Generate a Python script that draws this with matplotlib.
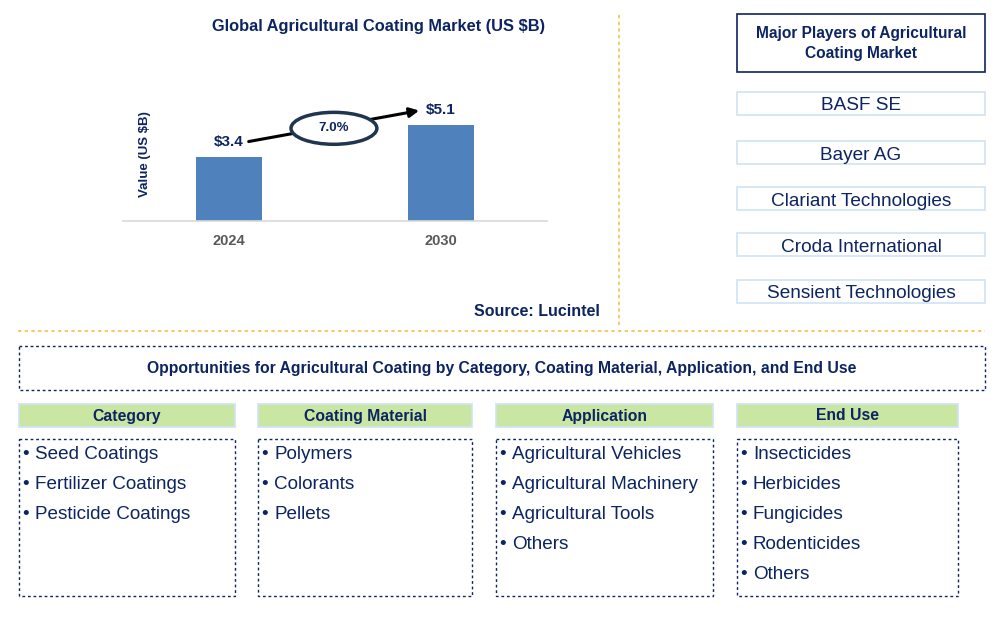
import matplotlib
matplotlib.use("Agg")
import matplotlib.pyplot as plt
from matplotlib.patches import Rectangle, Ellipse

plt.rcParams['font.family'] = ['Liberation Sans', 'DejaVu Sans']

# ---- data ----
years = ["2024", "2030"]
values = [3.4, 5.1]
value_labels = ["$3.4", "$5.1"]
cagr_label = "7.0%"
chart_title = "Global Agricultural Coating Market (US $B)"
y_label = "Value (US $B)"
source_text = "Source: Lucintel"

players_title = "Major Players of Agricultural\nCoating Market"
players = ["BASF SE", "Bayer AG", "Clariant Technologies", "Croda International", "Sensient Technologies"]

opp_title = "Opportunities for Agricultural Coating by Category, Coating Material, Application, and End Use"
seg_titles = ["Category", "Coating Material", "Application", "End Use"]
seg_items = [
    ["Seed Coatings", "Fertilizer Coatings", "Pesticide Coatings"],
    ["Polymers", "Colorants", "Pellets"],
    ["Agricultural Vehicles", "Agricultural Machinery", "Agricultural Tools", "Others"],
    ["Insecticides", "Herbicides", "Fungicides", "Rodenticides", "Others"],
]

NAVY = "#0c2461"
BAR = "#4f81bd"
GOLD = "#f5c243"
LBLUE = "#cfe3f3"
GREEN = "#c9e6a3"

W, H = 1005, 617
fig = plt.figure(figsize=(W / 100, H / 100), dpi=100)

# background layer in pixel coordinates
bg = fig.add_axes([0, 0, 1, 1])
bg.set_xlim(0, W)
bg.set_ylim(H, 0)
bg.axis("off")

# gold separators
bg.plot([619, 619], [15, 325], color=GOLD, lw=1.2, ls=(0, (2, 2)))
bg.plot([18, 985], [331, 331], color=GOLD, lw=1.2, ls=(0, (2, 2)))

# chart title and source
bg.text(379, 27, chart_title, ha="center", va="center", fontsize=11.8, fontweight="bold", color=NAVY)
bg.text(600, 311, source_text, ha="right", va="center", fontsize=11.5, fontweight="bold", color=NAVY)

# players panel
bg.add_patch(Rectangle((737, 14), 248, 58, fill=False, edgecolor=NAVY, lw=1.2))
bg.text(861, 43.5, players_title, ha="center", va="center", fontsize=11.2, fontweight="bold",
        color=NAVY, linespacing=1.4)
player_tops = [92, 141, 187, 233, 280]
for top, name in zip(player_tops, players):
    bg.add_patch(Rectangle((737, top), 248, 23, fill=False, edgecolor=LBLUE, lw=1.2))
    bg.text(861, top + 14, name, ha="center", va="center", fontsize=13.7, color=NAVY)

# opportunities box
bg.add_patch(Rectangle((19, 346), 966, 44, fill=False, edgecolor=NAVY, lw=1.0, ls=(0, (2, 2))))
bg.text(502, 368.5, opp_title, ha="center", va="center", fontsize=11.3, fontweight="bold", color=NAVY)

col_x = [(19, 235), (258, 472), (496, 713), (737, 958)]
for (x0, x1), title, items in zip(col_x, seg_titles, seg_items):
    bg.add_patch(Rectangle((x0, 404), x1 - x0, 23, facecolor=GREEN, edgecolor=LBLUE, lw=1.2))
    bg.text((x0 + x1) / 2, 416, title, ha="center", va="center", fontsize=11.3,
            fontweight="bold", color=NAVY)
    bg.add_patch(Rectangle((x0, 439), x1 - x0, 157, fill=False, edgecolor=NAVY, lw=1.0, ls=(0, (2, 2))))
    for i, it in enumerate(items):
        y = 454.5 + 30 * i
        bg.text(x0 + 3, y, "\u2022", ha="left", va="center", fontsize=13.5, color=NAVY)
        bg.text(x0 + 16, y, it, ha="left", va="center", fontsize=13.6, color=NAVY)

# ---- bar chart ----
px_per_unit = 18.8
ax_bottom, ax_top = 221, 40
ax = fig.add_axes([123 / W, 1 - ax_bottom / H, 424 / W, (ax_bottom - ax_top) / H])
ax.patch.set_alpha(0)
xs = list(range(len(years)))
ax.bar(xs, values, width=0.31, color=BAR, zorder=2)
ax.set_xlim(-0.5, 1.5)
ax.set_ylim(0, (ax_bottom - ax_top) / px_per_unit)
for s in ["top", "right", "left"]:
    ax.spines[s].set_visible(False)
ax.spines["bottom"].set_color("#d9d9d9")
ax.spines["bottom"].set_linewidth(1.2)
ax.set_yticks([])
ax.set_xticks(xs)
ax.set_xticklabels(years, fontsize=10.5, fontweight="bold", color="#595959")
ax.tick_params(axis="x", length=0, pad=9)
ax.set_ylabel(y_label, fontsize=9.5, fontweight="bold", color=NAVY, labelpad=0)
ax.yaxis.set_label_coords(0.066, 0.37)

for x, v, lab in zip(xs, values, value_labels):
    ax.text(x, v + 0.78, lab, ha="center", va="center", fontsize=11, fontweight="bold", color=NAVY)

# CAGR arrow and ellipse
start = (xs[0] + 0.08, values[0] + 0.8)
end = (xs[1] - 0.09, values[1] + 0.8)
ax.annotate("", xy=end, xytext=start,
            arrowprops=dict(arrowstyle="-|>", color="black", lw=2.2, mutation_scale=14))
mid = ((start[0] + end[0]) / 2, (start[1] + end[1]) / 2 - 0.12)
ax.add_patch(Ellipse(mid, 0.405, 1.7, facecolor="white", edgecolor="#1f3550", lw=2.5, zorder=3))
ax.text(mid[0], mid[1], cagr_label, ha="center", va="center", fontsize=9.5, fontweight="bold",
        color=NAVY, zorder=4)

fig.savefig("out.png", dpi=100)
